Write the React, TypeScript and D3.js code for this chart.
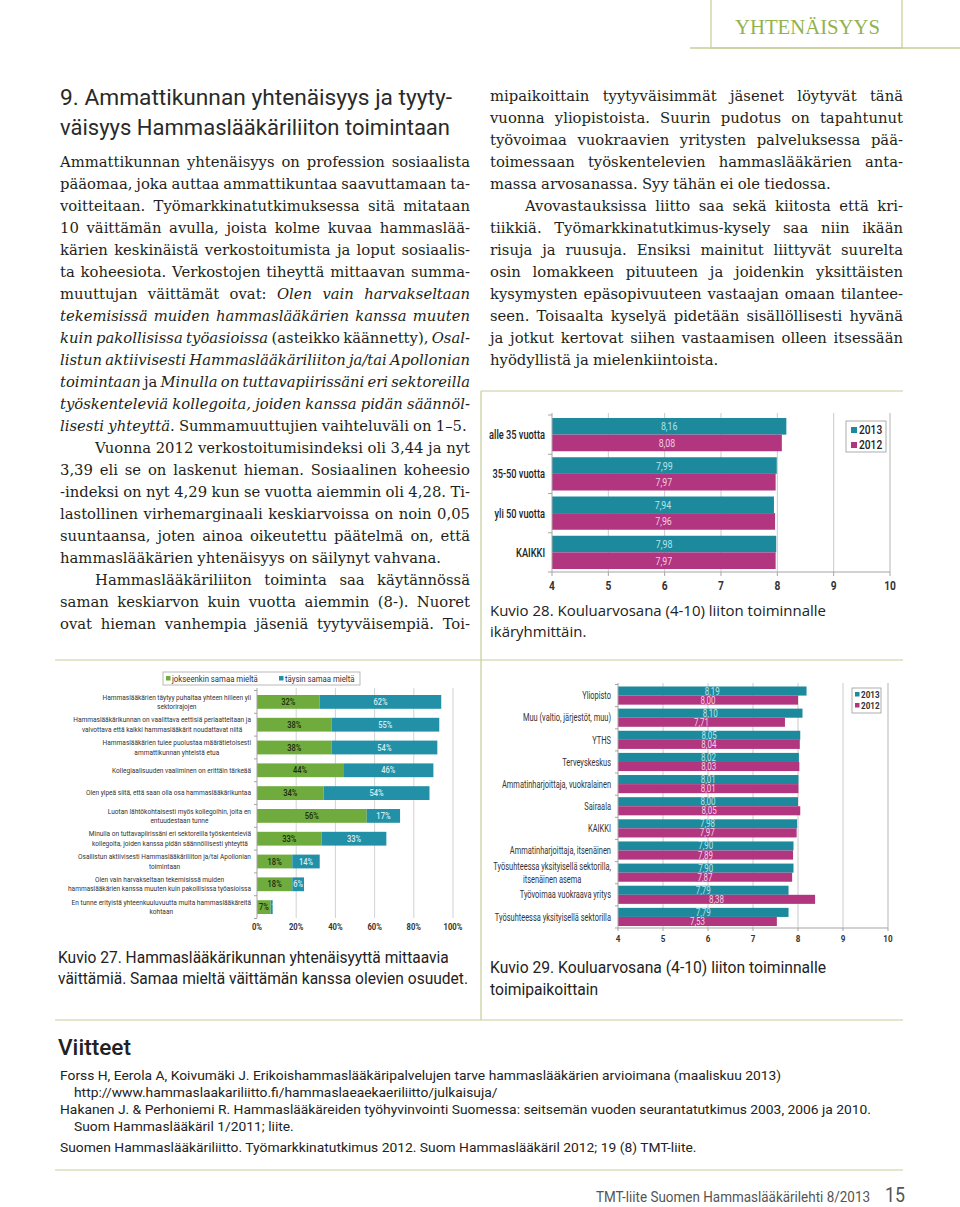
import React from 'react';
import * as d3 from 'd3';

// ---------------- DATA ----------------
// Kuvio 28: age groups
const ageGroups = ['alle 35 vuotta', '35-50 vuotta', 'yli 50 vuotta', 'KAIKKI'];
const age2013 = [8.16, 7.99, 7.94, 7.98];
const age2012 = [8.08, 7.97, 7.96, 7.97];
const years = ['2013', '2012'];
const gradeTicks = [4, 5, 6, 7, 8, 9, 10];

// Kuvio 29: workplaces
const workplaces = [
  ['Yliopisto'],
  ['Muu (valtio, järjestöt, muu)'],
  ['YTHS'],
  ['Terveyskeskus'],
  ['Ammatinharjoittaja, vuokralainen'],
  ['Sairaala'],
  ['KAIKKI'],
  ['Ammatinharjoittaja, itsenäinen'],
  ['Työsuhteessa yksityisellä sektorilla,', 'itsenäinen asema'],
  ['Työvoimaa vuokraava yritys'],
  ['Työsuhteessa yksityisellä sektorilla'],
];
const work2013 = [8.19, 8.1, 8.05, 8.02, 8.01, 8.0, 7.98, 7.9, 7.9, 7.79, 7.79];
const work2012 = [8.0, 7.71, 8.04, 8.03, 8.01, 8.05, 7.97, 7.89, 7.87, 8.38, 7.53];

// Kuvio 27: statements
const statements = [
  ['Hammaslääkärien täytyy puhaltaa yhteen hiileen yli', 'sektorirajojen'],
  ['Hammaslääkärikunnan on vaalittava eettisiä periaatteitaan ja', 'valvottava että kaikki hammaslääkärit noudattavat niitä'],
  ['Hammaslääkärien tulee puolustaa määrätietoisesti', 'ammattikunnan yhteistä etua'],
  ['Kollegiaalisuuden vaaliminen on erittäin tärkeää'],
  ['Olen ylpeä siitä, että saan olla osa hammaslääkärikuntaa'],
  ['Luotan lähtökohtaisesti myös kollegoihin, joita en', 'entuudestaan tunne'],
  ['Minulla on tuttavapiirissäni eri sektoreilla työskenteleviä', 'kollegoita, joiden kanssa pidän säännöllisesti yhteyttä'],
  ['Osallistun aktiivisesti Hammaslääkäriliiton ja/tai Apollonian', 'toimintaan'],
  ['Olen vain harvakseltaan tekemisissä muiden', 'hammaslääkärien kanssa muuten kuin pakollisissa työasioissa'],
  ['En tunne erityistä yhteenkuuluvuutta muita hammaslääkäreitä', 'kohtaan'],
];
const partlyAgree = [32, 38, 38, 44, 34, 56, 33, 18, 18, 7];
const fullyAgree = [62, 55, 54, 46, 54, 17, 33, 14, 6, 1];
const agreeSeries = ['jokseenkin samaa mieltä', 'täysin samaa mieltä'];
const pctTicks = [0, 20, 40, 60, 80, 100];

// Body text (* toggles italic)
const leftLines = [
  'Ammattikunnan yhtenäisyys on profession sosiaalista',
  'pääomaa, joka auttaa ammattikuntaa saavuttamaan ta-',
  'voitteitaan. Työmarkkinatutkimuksessa sitä mitataan',
  '10 väittämän avulla, joista kolme kuvaa hammaslää-',
  'kärien keskinäistä verkostoitumista ja loput sosiaalis-',
  'ta koheesiota. Verkostojen tiheyttä mittaavan summa-',
  'muuttujan väittämät ovat: *Olen vain harvakseltaan*',
  '*tekemisissä muiden hammaslääkärien kanssa muuten*',
  '*kuin pakollisissa työasioissa* (asteikko käännetty), *Osal-*',
  '*listun aktiivisesti Hammaslääkäriliiton ja/tai Apollonian*',
  '*toimintaan* ja *Minulla on tuttavapiirissäni eri sektoreilla*',
  '*työskenteleviä kollegoita, joiden kanssa pidän säännöl-*',
  '*lisesti yhteyttä*. Summamuuttujien vaihteluväli on 1–5.',
  'Vuonna 2012 verkostoitumisindeksi oli 3,44 ja nyt',
  '3,39 eli se on laskenut hieman. Sosiaalinen koheesio',
  '-indeksi on nyt 4,29 kun se vuotta aiemmin oli 4,28. Ti-',
  'lastollinen virhemarginaali keskiarvoissa on noin 0,05',
  'suuntaansa, joten ainoa oikeutettu päätelmä on, että',
  'hammaslääkärien yhtenäisyys on säilynyt vahvana.',
  'Hammaslääkäriliiton toiminta saa käytännössä',
  'saman keskiarvon kuin vuotta aiemmin (8-). Nuoret',
  'ovat hieman vanhempia jäseniä tyytyväisempiä. Toi-',
];
const leftLast = [12, 18];
const leftIndent = [13, 19];

const rightLines = [
  'mipaikoittain tyytyväisimmät jäsenet löytyvät tänä',
  'vuonna yliopistoista. Suurin pudotus on tapahtunut',
  'työvoimaa vuokraavien yritysten palveluksessa pää-',
  'toimessaan työskentelevien hammaslääkärien anta-',
  'massa arvosanassa. Syy tähän ei ole tiedossa.',
  'Avovastauksissa liitto saa sekä kiitosta että kri-',
  'tiikkiä. Työmarkkinatutkimus-kysely saa niin ikään',
  'risuja ja ruusuja. Ensiksi mainitut liittyvät suurelta',
  'osin lomakkeen pituuteen ja joidenkin yksittäisten',
  'kysymysten epäsopivuuteen vastaajan omaan tilantee-',
  'seen. Toisaalta kyselyä pidetään sisällöllisesti hyvänä',
  'ja jotkut kertovat siihen vastaamisen olleen itsessään',
  'hyödyllistä ja mielenkiintoista.',
];
const rightLast = [4, 12];
const rightIndent = [5];

const headingLines = ['9. Ammattikunnan yhtenäisyys ja tyyty-', 'väisyys Hammaslääkäriliiton toimintaan'];

const references = [
  'Forss H, Eerola A, Koivumäki J. Erikoishammaslääkäripalvelujen tarve hammaslääkärien arvioimana (maaliskuu 2013)',
  'http://www.hammaslaakariliitto.fi/hammaslaeaekaeriliitto/julkaisuja/',
  'Hakanen J. & Perhoniemi R. Hammaslääkäreiden työhyvinvointi Suomessa: seitsemän vuoden seurantatutkimus 2003, 2006 ja 2010.',
  'Suom Hammaslääkäril 1/2011; liite.',
  'Suomen Hammaslääkäriliitto. Työmarkkinatutkimus 2012. Suom Hammaslääkäril 2012; 19 (8) TMT-liite.',
];

// ---------------- HELPERS ----------------
const SERIF = "'DejaVu Serif'";
const SANS = 'Roboto';
const OLIVE = '#c5cf98';
const TEAL = '#1c8a9c';
const MAGENTA = '#b1367f';
const GREEN = '#6fac3d';
const TEAL27 = '#2290a6';
const GRID = '#cacaca';
const AXIS = '#a5a5a5';

let _ctx: CanvasRenderingContext2D | null = null;
function measure(text: string, font: string): number {
  if (!_ctx) _ctx = document.createElement('canvas').getContext('2d');
  if (!_ctx) return text.length * 6;
  _ctx.font = font;
  return _ctx.measureText(text).width;
}
function fontStr(size: number, fam: string, weight = 400, italic = false) {
  return `${italic ? 'italic ' : ''}${weight} ${size}px ${fam}`;
}
const fmt = (v: number) => d3.format('.2f')(v).replace('.', ',');

type TProps = {
  x: number; y: number; text: string; size: number; fam?: string; weight?: number;
  italic?: boolean; fill?: string; anchor?: 'start' | 'middle' | 'end'; w?: number; k?: number;
};
function T({ x, y, text, size, fam = SANS, weight = 400, italic = false, fill = '#222', anchor = 'start', w, k = 1 }: TProps) {
  const nat = measure(text, fontStr(size, fam, weight, italic));
  const width = w ?? nat * k;
  const x0 = anchor === 'start' ? x : anchor === 'end' ? x - width : x - width / 2;
  return (
    <text x={x0} y={y} fontFamily={fam} fontSize={size} fontWeight={weight}
      fontStyle={italic ? 'italic' : 'normal'} fill={fill}
      textLength={width} lengthAdjust="spacingAndGlyphs">{text}</text>
  );
}
function fitK(text: string, size: number, fam: string, w: number, weight = 400) {
  return w / measure(text, fontStr(size, fam, weight));
}

type Part = { t: string; i: boolean };
function tokenize(s: string): Part[][] {
  const segs = s.split('*').map((t, idx) => ({ t, i: idx % 2 === 1 })).filter(p => p.t.length);
  const tokens: Part[][] = [];
  let cur: Part[] = [];
  for (const seg of segs) {
    const pieces = seg.t.split(' ');
    pieces.forEach((p, idx) => {
      if (idx > 0) { if (cur.length) tokens.push(cur); cur = []; }
      if (p) cur.push({ t: p, i: seg.i });
    });
  }
  if (cur.length) tokens.push(cur);
  return tokens;
}

function JLine({ x0, x1, y, text, justify, size }: { x0: number; x1: number; y: number; text: string; justify: boolean; size: number }) {
  const tokens = tokenize(text);
  const widths = tokens.map(tok => tok.map(p => measure(p.t, fontStr(size, SERIF, 400, p.i))));
  const total = d3.sum(widths.map(ws => d3.sum(ws)));
  const spaceW = measure(' ', fontStr(size, SERIF)) * 0.9;
  let gap = justify && tokens.length > 1 ? (x1 - x0 - total) / (tokens.length - 1) : spaceW;
  let f = 1;
  const minGap = size * 0.22;
  if (justify && gap < minGap) {
    gap = minGap;
    f = (x1 - x0 - minGap * (tokens.length - 1)) / total;
  }
  let cx = x0;
  const spans: React.ReactNode[] = [];
  tokens.forEach((tok, ti) => {
    tok.forEach((p, pi) => {
      const w = widths[ti][pi] * f;
      spans.push(
        <tspan key={`${ti}-${pi}`} x={cx} fontStyle={p.i ? 'italic' : 'normal'}
          {...(f < 1 ? { textLength: w, lengthAdjust: 'spacingAndGlyphs' } : {})}>{p.t}</tspan>
      );
      cx += w;
    });
    cx += gap;
  });
  return <text y={y} fontFamily={SERIF} fontSize={size} fill="#231f20">{spans}</text>;
}

// multi-line centered block right-aligned at xr
function BlockLabel({ lines, xr, cy, size, lh, k, fill = '#333', weight = 400 }: { lines: string[]; xr: number; cy: number; size: number; lh: number; k: number; fill?: string; weight?: number }) {
  const ws = lines.map(l => measure(l, fontStr(size, SANS, weight)) * k);
  const maxW = d3.max(ws) || 0;
  const cx = xr - maxW / 2;
  const y0 = cy - ((lines.length - 1) * lh) / 2 + size * 0.35;
  return (
    <g>
      {lines.map((l, i) => (
        <T key={i} x={cx} y={y0 + i * lh} text={l} size={size} k={k} anchor="middle" fill={fill} weight={weight} />
      ))}
    </g>
  );
}

// ---------------- CHART 28 ----------------
function Chart28() {
  const x = d3.scaleLinear().domain([4, 10]).range([552, 890]);
  const y = d3.scaleBand<string>().domain(ageGroups).range([415, 572]).paddingInner(0.153).paddingOuter(0.0765);
  const y1 = d3.scaleBand<string>().domain(years).range([0, y.bandwidth()]);
  const series = [age2013, age2012];
  const colors = [TEAL, MAGENTA];
  const labelFill = ['#b9e3ea', '#f3cde2'];
  const step = y.step();
  return (
    <g>
      {gradeTicks.filter(t => t > 4).map(t => (
        <line key={t} x1={x(t)} x2={x(t)} y1={413} y2={572} stroke={t === 10 ? '#b5b5b5' : GRID} strokeWidth={1} />
      ))}
      {ageGroups.map((g, gi) => years.map((yr, si) => {
        const v = series[si][gi];
        const yy = (y(g) as number) + (y1(yr) as number);
        return (
          <g key={g + yr}>
            <rect x={x(4)} y={yy} width={x(v) - x(4)} height={y1.bandwidth()} fill={colors[si]} />
            <T x={(x(4) + x(v)) / 2} y={yy + y1.bandwidth() / 2 + 4} text={fmt(v)} size={11} k={0.8} anchor="middle" fill={labelFill[si]} />
          </g>
        );
      }))}
      <line x1={x(4)} x2={x(4)} y1={413} y2={572} stroke={AXIS} />
      {d3.range(ageGroups.length + 1).map(i => (
        <line key={i} x1={x(4) - 4} x2={x(4)} y1={415 + i * step} y2={415 + i * step} stroke={AXIS} />
      ))}
      <line x1={x(4)} x2={x(10)} y1={572} y2={572} stroke={AXIS} />
      {gradeTicks.map(t => (
        <g key={t}>
          <line x1={x(t)} x2={x(t)} y1={572} y2={576} stroke={AXIS} />
          <T x={x(t)} y={590} text={String(t)} size={12} weight={700} k={0.85} anchor="middle" fill="#333" />
        </g>
      ))}
      {ageGroups.map(g => (
        <T key={g} x={545} y={(y(g) as number) + y.bandwidth() / 2 + 4.5} text={g} size={12.5} weight={500} k={0.74} anchor="end" fill="#222" />
      ))}
      <rect x={846} y={421} width={40} height={31} fill="#fff" stroke="#9a9a9a" strokeWidth={0.8} />
      {years.map((yr, i) => (
        <g key={yr}>
          <rect x={851} y={427 + i * 15} width={6} height={6} fill={colors[i]} />
          <T x={859} y={434 + i * 15} text={yr} size={12} weight={500} k={0.85} fill="#222" />
        </g>
      ))}
    </g>
  );
}

// ---------------- CHART 29 ----------------
function Chart29() {
  const keys = workplaces.map(w => w.join(' '));
  const x = d3.scaleLinear().domain([4, 10]).range([618, 888]);
  const y = d3.scaleBand<string>().domain(keys).range([684.5, 928]).paddingInner(0.18).paddingOuter(0.09);
  const y1 = d3.scaleBand<string>().domain(years).range([0, y.bandwidth()]);
  const series = [work2013, work2012];
  const colors = [TEAL, MAGENTA];
  const labelFill = ['#b9e3ea', '#f3cde2'];
  const step = y.step();
  return (
    <g>
      {gradeTicks.filter(t => t > 4).map(t => (
        <line key={t} x1={x(t)} x2={x(t)} y1={683} y2={928} stroke={t === 10 ? '#b5b5b5' : GRID} />
      ))}
      {keys.map((k, gi) => years.map((yr, si) => {
        const v = series[si][gi];
        const yy = (y(k) as number) + (y1(yr) as number);
        return (
          <g key={k + yr}>
            <rect x={x(4)} y={yy} width={x(v) - x(4)} height={y1.bandwidth()} fill={colors[si]} />
            <T x={(x(4) + x(v)) / 2} y={yy + y1.bandwidth() / 2 + 3.5} text={fmt(v)} size={10} k={0.8} anchor="middle" fill={labelFill[si]} />
          </g>
        );
      }))}
      <line x1={x(4)} x2={x(4)} y1={683} y2={928} stroke={AXIS} />
      {d3.range(keys.length + 1).map(i => (
        <line key={i} x1={x(4) - 3} x2={x(4)} y1={684.5 + i * step} y2={684.5 + i * step} stroke={AXIS} />
      ))}
      <line x1={x(4)} x2={x(10)} y1={928} y2={928} stroke={AXIS} />
      {gradeTicks.map(t => (
        <g key={t}>
          <line x1={x(t)} x2={x(t)} y1={928} y2={931} stroke={AXIS} />
          <T x={x(t)} y={942} text={String(t)} size={9.5} weight={700} k={0.85} anchor="middle" fill="#333" />
        </g>
      ))}
      {workplaces.map((lines, i) => (
        <BlockLabel key={i} lines={lines} xr={611} cy={(y(keys[i]) as number) + y.bandwidth() / 2} size={10.5} lh={13.5} k={0.71} fill="#333" />
      ))}
      <rect x={852} y={688} width={29} height={25} fill="#fff" stroke="#9a9a9a" strokeWidth={0.8} />
      {years.map((yr, i) => (
        <g key={yr}>
          <rect x={855} y={692 + i * 11} width={4.5} height={4.5} fill={colors[i]} />
          <T x={861} y={698 + i * 11} text={yr} size={9.5} weight={700} k={0.85} fill="#333" />
        </g>
      ))}
    </g>
  );
}

// ---------------- CHART 27 ----------------
function Chart27() {
  const keys = statements.map(s => s.join(' '));
  const x = d3.scaleLinear().domain([0, 100]).range([257, 453]);
  const y = d3.scaleBand<string>().domain(keys).range([690.5, 918.5]).paddingInner(0.395).paddingOuter(0.1975);
  const step = y.step();
  return (
    <g>
      <defs>
        {keys.map((k, i) => (
          <clipPath key={i} id={`c27-${i}`}>
            <rect x={x(partlyAgree[i])} y={y(k) as number} width={x(partlyAgree[i] + fullyAgree[i]) - x(partlyAgree[i])} height={y.bandwidth()} />
          </clipPath>
        ))}
      </defs>
      {pctTicks.filter(t => t > 0).map(t => (
        <line key={t} x1={x(t)} x2={x(t)} y1={688} y2={918} stroke="#d2d2d2" />
      ))}
      {keys.map((k, i) => {
        const yy = y(k) as number;
        const a = partlyAgree[i], b = fullyAgree[i];
        const cy = yy + y.bandwidth() / 2 + 3;
        return (
          <g key={k}>
            <rect x={x(0)} y={yy} width={x(a) - x(0)} height={y.bandwidth()} fill={GREEN} />
            <rect x={x(a)} y={yy} width={x(a + b) - x(a)} height={y.bandwidth()} fill={TEAL27} />
            <T x={(x(0) + x(a)) / 2} y={cy} text={`${a}%`} size={8.2} weight={500} k={0.92} anchor="middle" fill="#1d2a12" />
            <g clipPath={`url(#c27-${i})`}>
              <T x={b < 3 ? x(a) + 0.6 : (x(a) + x(a + b)) / 2} y={cy} text={`${b}%`} size={8.2} weight={500} k={0.92} anchor={b < 3 ? 'start' : 'middle'} fill="#d6eef3" />
            </g>
          </g>
        );
      })}
      <line x1={x(0)} x2={x(0)} y1={688} y2={918} stroke={AXIS} />
      {d3.range(keys.length + 1).map(i => (
        <line key={i} x1={x(0) - 3} x2={x(0)} y1={690.5 + i * step} y2={690.5 + i * step} stroke={AXIS} />
      ))}
      {pctTicks.map(t => (
        <T key={t} x={x(t)} y={930} text={`${t}%`} size={8.5} weight={700} k={0.9} anchor="middle" fill="#333" />
      ))}
      {statements.map((lines, i) => (
        <BlockLabel key={i} lines={lines} xr={251} cy={(y(keys[i]) as number) + y.bandwidth() / 2} size={6.7} lh={9.4} k={0.98} fill="#333" />
      ))}
      <rect x={163} y={672} width={197} height={13} fill="#fff" stroke="#a8a8a8" strokeWidth={0.8} />
      {agreeSeries.map((s, i) => (
        <g key={s}>
          <rect x={[166, 279][i]} y={676} width={4.5} height={4.5} fill={[GREEN, TEAL27][i]} />
          <T x={[172, 285][i]} y={681.5} text={s} size={8.2} k={0.95} fill="#333" />
        </g>
      ))}
    </g>
  );
}

// ---------------- PAGE ----------------
export default function App() {
  const bodySize = 14.8;
  const capK27 = fitK('väittämiä. Samaa mieltä väittämän kanssa olevien osuudet.', 16, SANS, 410);
  const capK29 = fitK('Kuvio 29. Kouluarvosana (4-10) liiton toiminnalle', 16, SANS, 336);
  const capK28 = fitK('Kuvio 28. Kouluarvosana (4-10) liiton toiminnalle', 14.5, "'Open Sans'", 336);
  const refK = fitK(references[2], 13.5, SANS, 811);
  return (
    <svg width={960} height={1207} style={{ position: 'absolute', left: 0, top: 0, display: 'block' }}>
      <rect x={0} y={0} width={960} height={1207} fill="#fff" />

      {/* header */}
      <rect x={711} y={-1} width={191} height={49} fill="none" stroke={OLIVE} strokeWidth={1.2} />
      <line x1={690} x2={960} y1={48} y2={48} stroke={OLIVE} strokeWidth={1.5} />
      <T x={735} y={34} text="YHTENÄISYYS" size={20} fam="'Liberation Serif'" w={145} fill="#93b24e" />

      {/* heading */}
      {headingLines.map((l, i) => (
        <T key={i} x={60} y={105 + i * 30} text={l} size={22.5} weight={400} w={i === 0 ? 392 : 390} fill="#2a2a2a" />
      ))}

      {/* body text */}
      {leftLines.map((l, i) => (
        <JLine key={'l' + i} x0={leftIndent.includes(i) ? 95 : 60} x1={470} y={167 + i * 22} text={l}
          justify={!leftLast.includes(i)} size={bodySize} />
      ))}
      {rightLines.map((l, i) => (
        <JLine key={'r' + i} x0={rightIndent.includes(i) ? 525 : 490} x1={903} y={101 + i * 22} text={l}
          justify={!rightLast.includes(i)} size={bodySize} />
      ))}

      {/* frames */}
      <line x1={481} x2={903} y1={391} y2={391} stroke={OLIVE} strokeWidth={1.2} />
      <line x1={481} x2={481} y1={391} y2={1020} stroke={OLIVE} strokeWidth={1.2} />
      <line x1={55} x2={903} y1={660} y2={660} stroke={OLIVE} strokeWidth={1.2} />
      <line x1={55} x2={903} y1={1020} y2={1020} stroke={OLIVE} strokeWidth={1.2} />
      <line x1={55} x2={903} y1={1170} y2={1170} stroke={OLIVE} strokeWidth={1.2} />

      <Chart28 />
      <T x={490} y={616} text="Kuvio 28. Kouluarvosana (4-10) liiton toiminnalle" size={14.5} fam="'Open Sans'" k={capK28} fill="#222" />
      <T x={490} y={637} text="ikäryhmittäin." size={14.5} fam="'Open Sans'" k={capK28} fill="#222" />

      <Chart27 />
      <T x={58} y={963} text="Kuvio 27. Hammaslääkärikunnan yhtenäisyyttä mittaavia" size={16} k={capK27} fill="#222" />
      <T x={58} y={984} text="väittämiä. Samaa mieltä väittämän kanssa olevien osuudet." size={16} k={capK27} fill="#222" />

      <Chart29 />
      <T x={490} y={973} text="Kuvio 29. Kouluarvosana (4-10) liiton toiminnalle" size={16} k={capK29} fill="#222" />
      <T x={490} y={995} text="toimipaikoittain" size={16} k={capK29} fill="#222" />

      {/* references */}
      <T x={58} y={1055} text="Viitteet" size={22} weight={500} w={73} fill="#222" />
      {references.map((r, i) => (
        <T key={i} x={i === 1 || i === 3 ? 74 : 60} y={[1080, 1097, 1114, 1131, 1152][i]} text={r} size={13.5} k={refK} fill="#222" />
      ))}

      {/* footer */}
      <T x={870} y={1202} text="TMT-liite Suomen Hammaslääkärilehti 8/2013" size={14} anchor="end" w={274} fill="#555" />
      <T x={885} y={1202} text="15" size={20} w={20} fill="#555" />
    </svg>
  );
}
